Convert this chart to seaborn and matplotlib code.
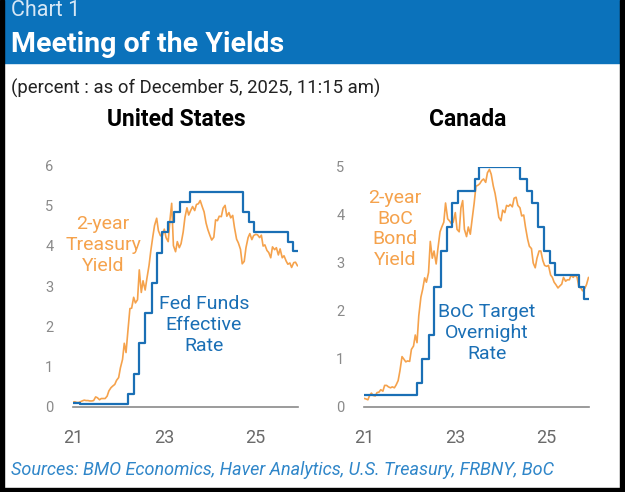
import matplotlib
matplotlib.use("Agg")
import matplotlib.pyplot as plt
from matplotlib.patches import Rectangle
import pandas as pd
import seaborn as sns

# 2-year yields, sampled on the 1st and 15th of each month from Jan 2021
us_2y = [0.12, 0.13, 0.11, 0.11, 0.13, 0.15, 0.17, 0.16, 0.16, 0.15, 0.15, 0.16,
         0.25, 0.23, 0.18, 0.21, 0.21, 0.21, 0.27, 0.40, 0.48, 0.52, 0.56, 0.66,
         0.73, 0.97, 1.18, 1.58, 1.35, 1.85, 2.44, 2.45, 2.72, 2.58, 2.66, 3.40,
         2.84, 3.13, 2.90, 3.19, 3.51, 3.87, 4.22, 4.50, 4.68, 4.37, 4.25, 4.23,
         4.41, 4.20, 4.10, 4.63, 5.05, 4.00, 3.85, 4.10, 3.95, 4.05, 4.34, 4.70,
         4.94, 4.76, 4.88, 4.97, 4.87, 5.02, 5.04, 5.12, 4.96, 4.84, 4.56, 4.40,
         4.25, 4.14, 4.21, 4.64, 4.62, 4.73, 4.72, 4.93, 5.00, 4.73, 4.82, 4.69,
         4.75, 4.45, 4.16, 4.07, 3.91, 3.55, 3.61, 3.95, 4.20, 4.30, 4.15, 4.25,
         4.28, 4.27, 4.20, 4.26, 3.99, 4.02, 3.88, 3.83, 3.70, 3.97, 3.90, 3.95,
         3.77, 3.92, 3.70, 3.75, 3.62, 3.54, 3.57, 3.46, 3.58, 3.59, 3.50]
ca_2y = [0.18, 0.17, 0.15, 0.24, 0.29, 0.24, 0.23, 0.30, 0.31, 0.36, 0.33, 0.45,
         0.45, 0.42, 0.40, 0.42, 0.40, 0.46, 0.55, 0.75, 1.05, 1.00, 0.94, 0.96,
         0.95, 1.20, 1.27, 1.50, 1.34, 1.90, 2.29, 2.45, 2.69, 2.60, 2.80, 3.45,
         3.10, 3.25, 2.98, 3.30, 3.65, 3.75, 3.85, 4.25, 3.92, 3.88, 3.82, 3.85,
         4.05, 3.70, 3.65, 4.15, 4.30, 3.70, 3.55, 3.75, 3.60, 3.90, 4.25, 4.60,
         4.62, 4.65, 4.72, 4.75, 4.68, 4.88, 4.95, 4.85, 4.60, 4.45, 4.20, 3.95,
         3.88, 4.10, 4.05, 4.20, 4.18, 4.22, 4.17, 4.35, 4.37, 4.20, 4.15, 3.98,
         4.00, 3.75, 3.50, 3.35, 3.30, 3.00, 2.90, 3.10, 3.25, 3.25, 3.05, 2.95,
         2.93, 2.95, 2.75, 2.70, 2.60, 2.55, 2.48, 2.52, 2.56, 2.70, 2.62, 2.65,
         2.65, 2.75, 2.70, 2.75, 2.70, 2.50, 2.48, 2.42, 2.47, 2.55, 2.70]

# policy rates: date of change and new level
fed_dates = ["2021-01-01", "2021-03-01", "2021-06-17", "2022-03-17", "2022-05-05",
             "2022-06-16", "2022-07-28", "2022-09-22", "2022-11-03", "2022-12-15",
             "2023-02-02", "2023-03-23", "2023-05-04", "2023-07-27", "2024-09-19",
             "2024-11-08", "2024-12-19", "2025-09-18", "2025-10-30", "2025-12-05"]
fed_rate = [0.09, 0.07, 0.08, 0.33, 0.83, 1.58, 2.33, 3.08, 3.83, 4.33,
            4.58, 4.83, 5.08, 5.33, 4.83, 4.58, 4.33, 4.08, 3.87, 3.87]
boc_dates = ["2021-01-01", "2022-03-02", "2022-04-13", "2022-06-01", "2022-07-13",
             "2022-09-07", "2022-10-26", "2022-12-07", "2023-01-25", "2023-06-07",
             "2023-07-12", "2024-06-05", "2024-07-24", "2024-09-04", "2024-10-23",
             "2024-12-11", "2025-01-29", "2025-03-12", "2025-09-17", "2025-10-29",
             "2025-12-05"]
boc_rate = [0.25, 0.50, 1.00, 1.50, 2.50, 3.25, 3.75, 4.25, 4.50, 4.75,
            5.00, 4.75, 4.50, 4.25, 3.75, 3.25, 3.00, 2.75, 2.50, 2.25, 2.25]

xtick_dates = ["2021-01-01", "2023-01-01", "2025-01-01"]
xtick_labels = ["21", "23", "25"]

ORANGE = "#f5a24c"
BLUE = "#1a6fb5"
HEADER = "#0b72bb"

sns.set_style("white")
plt.rcParams["font.family"] = ["Roboto", "DejaVu Sans"]

W, H = 625, 492
fig = plt.figure(figsize=(W / 100, H / 100), dpi=100)


def fx(px):
    return px / W


def fy(py):
    return 1 - py / H


# frame: blue header band and dark border
fig.patches.append(Rectangle((fx(4), fy(63)), fx(616), 63 / H, transform=fig.transFigure,
                             color=HEADER, zorder=0))
fig.patches.append(Rectangle((0, 0), fx(4), 1, transform=fig.transFigure, color="black"))
fig.patches.append(Rectangle((fx(620), 0), fx(5), 1, transform=fig.transFigure, color="black"))
fig.patches.append(Rectangle((0, 0), 1, 4 / H, transform=fig.transFigure, color="black"))

fig.text(fx(11), fy(10), "Chart 1", color="#d6e7f5", fontsize=15.5, va="center")
fig.text(fx(11), fy(44), "Meeting of the Yields", color="white", fontsize=20.5,
         fontweight="bold", va="center")
fig.text(fx(11), fy(88), "(percent : as of December 5, 2025, 11:15 am)", color="#222222",
         fontsize=13.3, va="center")
fig.text(fx(11), fy(470), "Sources: BMO Economics, Haver Analytics, U.S. Treasury, FRBNY, BoC",
         color="#2f86c9", fontsize=13, style="italic", va="center")

yield_dates_us = pd.date_range("2021-01-01", periods=len(us_2y), freq="SMS")
yield_dates_ca = pd.date_range("2021-01-01", periods=len(ca_2y), freq="SMS")
df_us = pd.DataFrame({"date": yield_dates_us, "value": us_2y})
df_ca = pd.DataFrame({"date": yield_dates_ca, "value": ca_2y})
df_fed = pd.DataFrame({"date": pd.to_datetime(fed_dates), "value": fed_rate})
df_boc = pd.DataFrame({"date": pd.to_datetime(boc_dates), "value": boc_rate})

panels = [
    dict(rect=(73, 298, 165), ymax=6, yld=df_us, pol=df_fed, title="United States", tx=176,
         labels=[("2-year\nTreasury\nYield", 103, 245, ORANGE),
                 ("Fed Funds\nEffective\nRate", 204, 325, BLUE)]),
    dict(rect=(364, 589, 167), ymax=5, yld=df_ca, pol=df_boc, title="Canada", tx=468,
         labels=[("2-year\nBoC\nBond\nYield", 395, 229, ORANGE),
                 ("BoC Target\nOvernight\nRate", 487, 333, BLUE)]),
]

for p in panels:
    left, right, top = p["rect"]
    ax = fig.add_axes([fx(left), fy(407), (right - left) / W, (407 - top) / H])
    sns.lineplot(data=p["yld"], x="date", y="value", ax=ax, color=ORANGE, lw=1.2)
    sns.lineplot(data=p["pol"], x="date", y="value", ax=ax, color=BLUE, lw=1.6,
                 drawstyle="steps-post")
    ax.set_xlim(pd.Timestamp("2021-01-01"), pd.Timestamp("2025-12-05"))
    ax.set_ylim(0, p["ymax"])
    ax.set_yticks(range(0, p["ymax"] + 1))
    ax.set_xticks(pd.to_datetime(xtick_dates))
    ax.set_xticklabels(xtick_labels)
    ax.set_xlabel("")
    ax.set_ylabel("")
    sns.despine(ax=ax, left=True)
    ax.spines["bottom"].set_color("#8a8a8a")
    ax.spines["bottom"].set_linewidth(1.2)
    ax.tick_params(axis="y", length=0, pad=14, labelsize=10.5, labelcolor="#8a8a8a")
    ax.tick_params(axis="x", direction="in", length=4, color="#8a8a8a", pad=16,
                   labelsize=13, labelcolor="#6a6a6a")
    ax.set_facecolor("none")
    fig.text(fx(p["tx"]), fy(120), p["title"], ha="center", va="center", fontsize=16.5,
             fontweight="bold", color="black")
    for txt, x, y, c in p["labels"]:
        fig.text(fx(x), fy(y), txt, ha="center", va="center", color=c, fontsize=14,
                 linespacing=1.2)

fig.savefig("out.png", dpi=100, facecolor="white")
